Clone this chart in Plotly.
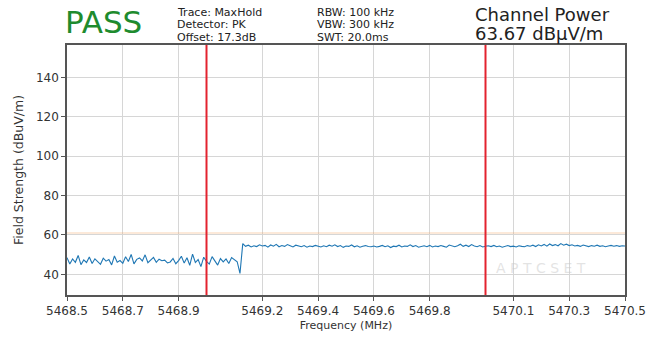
import numpy as np
import plotly.graph_objects as go

# ---------------------------------------------------------------- Data
LEFT_START, LEFT_STOP = 5468.50, 5469.12
RIGHT_START, RIGHT_STOP = 5469.13, 5470.50

LEVEL_LEFT = [
    48.5, 45.2, 47.8, 46.1, 49.6, 44.9, 47.3, 46.0, 48.8, 45.5,
    47.9, 46.4, 45.1, 48.2, 46.7, 47.5, 44.8, 49.3, 46.2, 47.0,
    45.6, 48.9, 46.5, 50.1, 45.3, 47.6, 48.3, 46.8, 49.9, 45.9,
    47.4, 48.6, 46.1, 47.7, 46.9, 47.2, 45.8, 46.3, 48.1, 45.4,
    47.0, 49.2, 45.7, 48.4, 44.6, 50.3, 46.0, 47.5, 43.9, 48.7,
    46.6, 45.2, 49.0, 47.1, 44.7, 48.0, 46.3, 47.8, 45.5, 48.5,
    47.2, 46.4, 40.5,
]
LEVEL_RIGHT = [
    55.6, 54.2, 54.8, 53.9, 54.5, 54.1, 55.0, 54.4, 54.7, 53.8,
    54.9, 54.3, 55.2, 54.0, 54.6, 54.2, 55.1, 54.5, 53.9, 54.8,
    54.3, 54.0, 54.6, 53.8, 54.4, 54.1, 54.7, 54.2, 53.9, 54.5,
    54.0, 54.8, 54.3, 55.0, 54.1, 54.6, 53.7, 54.4, 54.2, 54.9,
    54.0, 54.5, 53.8, 54.3, 54.6, 54.1, 54.0, 54.4, 53.9, 54.2,
    54.7, 54.0, 54.5, 53.6, 54.3, 54.1, 54.8, 53.9, 54.4, 54.2,
    55.0, 54.1, 54.6, 53.8, 54.3, 54.5, 54.0, 54.7, 53.9, 54.4,
    54.1, 54.6, 54.2, 53.8, 54.9, 54.3, 54.0, 54.5, 55.3, 54.2,
    54.8, 54.1, 55.1, 54.4, 54.0, 54.6, 53.9, 54.3, 54.5, 54.1,
    54.7, 54.0, 54.4, 53.8, 54.2, 54.6, 54.1, 54.3, 53.9, 54.5,
    54.2, 54.0, 54.6, 54.3, 54.8, 54.1, 55.0, 54.4, 55.2, 54.3,
    55.4, 54.6, 55.1, 54.5, 55.6, 54.8, 55.3, 54.6, 55.0, 54.4,
    54.7, 54.2, 54.9, 54.5, 54.1, 54.6, 54.3, 54.8, 54.2, 54.5,
    54.0, 54.4, 54.7, 54.3, 54.6, 54.2, 54.5, 54.4,
]
CHANNEL_EDGES = [5469.0, 5470.0]
X_TICKS = [5468.5, 5468.7, 5468.9, 5469.2, 5469.4, 5469.6, 5469.8,
           5470.1, 5470.3, 5470.5]
Y_TICKS = [40, 60, 80, 100, 120, 140]

freq = np.concatenate([
    np.linspace(LEFT_START, LEFT_STOP, len(LEVEL_LEFT)),
    np.linspace(RIGHT_START, RIGHT_STOP, len(LEVEL_RIGHT)),
])
level = LEVEL_LEFT + LEVEL_RIGHT

FONT = "DejaVu Sans"
Y_MIN, Y_MAX = 29.5, 156.5

# ---------------------------------------------------------------- Figure
fig = go.Figure()

# faint limit line near 60
fig.add_trace(go.Scatter(
    x=[5468.5, 5470.5], y=[61, 61], mode="lines",
    line=dict(color="rgba(240,170,110,0.35)", width=1.5),
    hoverinfo="skip", showlegend=False,
))

fig.add_trace(go.Scatter(
    x=freq, y=level, mode="lines",
    line=dict(color="#1f77b4", width=1.1),
    showlegend=False,
))

for f in CHANNEL_EDGES:
    fig.add_trace(go.Scatter(
        x=[f, f], y=[Y_MIN, Y_MAX], mode="lines",
        line=dict(color="#e3232f", width=2),
        hoverinfo="skip", showlegend=False,
    ))

axis_common = dict(
    showline=True, linecolor="#555", linewidth=1.5, mirror=True,
    showgrid=True, gridcolor="#d6d6d6", gridwidth=1,
    ticks="outside", ticklen=4, tickcolor="#555",
    tickfont=dict(family=FONT, size=12, color="#333"),
    zeroline=False, automargin=False,
)
fig.update_xaxes(
    range=[5468.5, 5470.5], tickvals=X_TICKS,
    ticktext=[f"{v:.1f}" for v in X_TICKS],
    title=dict(text="Frequency (MHz)", standoff=4,
               font=dict(family=FONT, size=11, color="#333")),
    **axis_common,
)
fig.update_yaxes(
    range=[Y_MIN, Y_MAX], tickvals=Y_TICKS,
    title=dict(text="Field Strength (dBuV/m)", standoff=10,
               font=dict(family=FONT, size=12.5, color="#333")),
    **axis_common,
)

# ---------------------------------------------------------------- Header
def note(x, y, text, size, color="#222", xanchor="left"):
    fig.add_annotation(x=x, y=y, xref="paper", yref="paper", text=text,
                       showarrow=False, xanchor=xanchor, yanchor="middle",
                       align="left", borderpad=0,
                       font=dict(family=FONT, size=size, color=color))

# paper coords: plot x 67..625 px, y 45..295 px
def px(xp):
    return (xp - 67) / 558

def py(yp):
    return (295 - yp) / 250

note(px(64), py(22), "PASS", 31, color="#1e8b2e")
note(px(176), py(12), "Trace: MaxHold", 11)
note(px(176), py(25), "Detector: PK", 11)
note(px(176), py(38), "Offset: 17.3dB", 11)
note(px(316), py(12), "RBW: 100 kHz", 11)
note(px(316), py(25), "VBW: 300 kHz", 11)
note(px(316), py(38), "SWT: 20.0ms", 11)
note(px(474), py(15), "Channel Power", 18)
note(px(474), py(34), "63.67 dBµV/m", 18)

# faint watermark
fig.add_annotation(x=5470.2, y=43, text="A P T C S E T", showarrow=False,
                   font=dict(family=FONT, size=14, color="rgba(200,200,200,0.5)"))

fig.update_layout(
    width=656, height=339,
    margin=dict(l=67, r=31, t=45, b=44),
    plot_bgcolor="white", paper_bgcolor="white",
    font=dict(family=FONT),
)

# drop the browser's default body margin so the figure sits at 0,0
fig.write_html("out.html", config={"displayModeBar": False},
               post_script="document.body.style.margin='0';")
